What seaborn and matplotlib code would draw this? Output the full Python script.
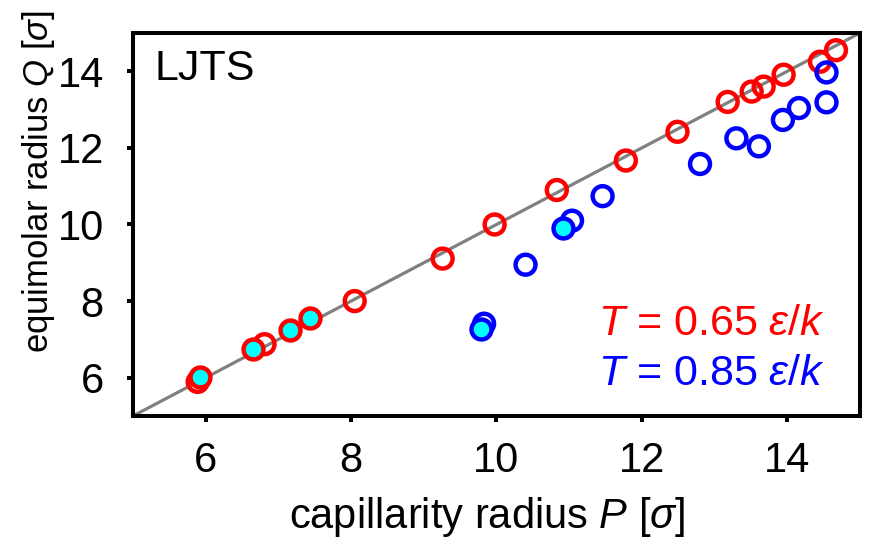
"""Equimolar vs. capillarity radius for LJTS droplets at two temperatures."""

import matplotlib as mpl
import matplotlib.pyplot as plt
import numpy as np
import seaborn as sns

sns.set_theme(context="notebook", style="ticks")
plt.rcParams["font.family"] = ["Liberation Sans", "DejaVu Sans"]
mpl.rcParams.update(
    {
        "mathtext.fontset": "custom",
        "mathtext.rm": "Liberation Sans",
        "mathtext.it": "Liberation Sans:italic",
        "axes.linewidth": 2.9,
        "axes.edgecolor": "black",
        "axes.labelcolor": "black",
        "text.color": "black",
        "xtick.color": "black",
        "ytick.color": "black",
    }
)

RED = "#ff0000"
BLUE = "#0000ff"
CYAN = "#00ffff"

# T = 0.65 eps/k (open red circles)
p_red = [5.89, 6.81, 8.05, 9.26, 9.975, 10.83, 11.78, 12.49, 13.18, 13.51, 13.675, 13.95, 14.45, 14.67]
q_red = [5.89, 6.875, 8.0, 9.11, 10.0, 10.90, 11.67, 12.42, 13.20, 13.47, 13.60, 13.91, 14.25, 14.55]
# T = 0.65 eps/k (cyan filled)
p_red_fill = [5.917, 6.65, 7.155, 7.43]
q_red_fill = [6.01, 6.745, 7.24, 7.56]

# T = 0.85 eps/k (open blue circles)
p_blue = [9.83, 10.40, 11.04, 11.46, 12.80, 13.30, 13.61, 13.94, 14.16, 14.54, 14.54]
q_blue = [7.41, 8.95, 10.10, 10.74, 11.58, 12.25, 12.04, 12.73, 13.04, 13.19, 13.97]
# T = 0.85 eps/k (cyan filled)
p_blue_fill = [9.785, 10.91]
q_blue_fill = [7.28, 9.91]

diag = [5, 15]

fig = plt.figure(figsize=(8.69, 5.47), dpi=100)
ax = fig.add_axes([0.153, 0.2395, 0.8366, 0.7002])

sns.lineplot(x=diag, y=diag, ax=ax, color="#808080", linewidth=2.3, zorder=1)

ms, mw = 205, 3.2
sns.scatterplot(x=p_red, y=q_red, ax=ax, s=ms, facecolors="none", edgecolor=RED, linewidth=mw, zorder=3)
sns.scatterplot(x=p_blue, y=q_blue, ax=ax, s=ms, facecolors="none", edgecolor=BLUE, linewidth=mw, zorder=3)
sns.scatterplot(x=p_red_fill, y=q_red_fill, ax=ax, s=ms, facecolors=CYAN, edgecolor=RED, linewidth=mw, zorder=4)
sns.scatterplot(x=p_blue_fill, y=q_blue_fill, ax=ax, s=ms, facecolors=CYAN, edgecolor=BLUE, linewidth=mw, zorder=4)

ax.set_xlim(5, 15)
ax.set_ylim(5, 15)
ax.set_xticks([6, 8, 10, 12, 14])
ax.set_yticks([6, 8, 10, 12, 14])
ax.tick_params(direction="out", length=4, width=2.9, labelsize=30)
ax.tick_params(axis="x", pad=14)
ax.tick_params(axis="y", pad=17)
for side in ["top", "right"]:
    ax.spines[side].set_visible(True)

ax.set_xlabel(r"capillarity radius $P$ [$\sigma$]", fontsize=30)
ax.set_ylabel(r"equimolar radius $Q$ [$\sigma$]", fontsize=25)
ax.xaxis.set_label_coords(0.488, -0.205)
ax.yaxis.set_label_coords(-0.104, 0.612)

ax.text(0.029, 0.877, "LJTS", transform=ax.transAxes, fontsize=31, ha="left", va="baseline")
ax.text(0.640, 0.2115, r"$T$ = 0.65 $\varepsilon$/$k$", transform=ax.transAxes,
        fontsize=31, color=RED, ha="left", va="baseline")
ax.text(0.640, 0.081, r"$T$ = 0.85 $\varepsilon$/$k$", transform=ax.transAxes,
        fontsize=31, color=BLUE, ha="left", va="baseline")

fig.savefig("out.png", dpi=100)
